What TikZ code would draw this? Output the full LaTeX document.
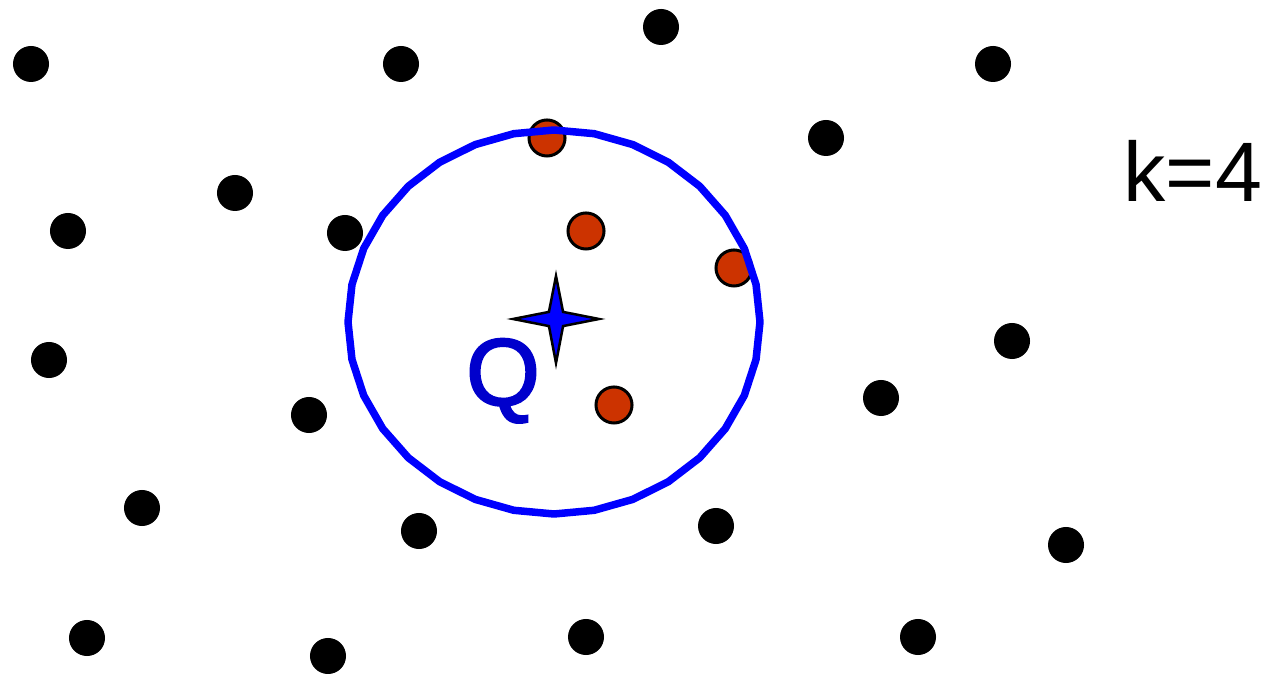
\documentclass[tikz,border=0pt]{standalone}
\usepackage{fontspec}
\setmainfont{Liberation Sans}
\definecolor{hitred}{RGB}{204,51,0}
\definecolor{qblue}{RGB}{0,0,204}

\begin{document}
\begin{tikzpicture}[
  x=0.01cm, y=-0.01cm,
  pt/.style={circle, fill=black, minimum size=3.6mm, inner sep=0pt},
  hit/.style={circle, draw=black, line width=0.3mm, fill=hitred,
              minimum size=3.6mm, inner sep=0pt},
  ring/.style={draw=blue, line width=0.75mm, line join=round},
  lbl/.style={inner sep=0pt, font=\fontsize{27}{30}\selectfont}
]
  \useasboundingbox (0,0) rectangle (1270,674);
  % data points outside the query range
  \foreach \x/\y/\nm in {
    31/64/p1, 401/64/p2, 661/27/p3, 993/64/p4, 826/138/p5,
    235/193/p6, 68/231/p7, 345/233/p8, 49/360/p9, 1012/341/p10,
    881/398/p11, 309/415/p12, 142/508/p13, 419/531/p14, 716/526/p15,
    1066/545/p16, 87/638/p17, 328/656/p18, 586/637/p19, 918/637/p20}
    {\node[pt] (\nm) at (\x,\y) {};}
  % the k nearest neighbours
  \foreach \x/\y/\nm in {547/138/n1, 586/231/n2, 734/268/n3, 614/405/n4}
    {\node[hit] (\nm) at (\x,\y) {};}
  % query range
  \draw[ring] plot[samples=33, domain=0:360]
    ({554+206*cos(\x)}, {322+192*sin(\x)}) -- cycle;
  \coordinate (Q) at (556,319);
  \draw[fill=blue, line width=0.25mm, line join=miter]
    (Q) +(0:43) -- +(45:10) -- +(90:44) -- +(135:10) -- +(180:43)
        -- +(225:10) -- +(270:43) -- +(315:10) -- cycle;
  \node[lbl, text=qblue, draw=qblue, line width=0.02mm, anchor=base, draw=none]
    (qlabel) at (503,405) {\special{pdf:literal direct 2 Tr 0.6 w}Q\special{pdf:literal direct 0 Tr}};
  \node[lbl, font=\fontsize{24}{28}\selectfont, anchor=base west] (klabel)
    at (1123,202) {k=4};
\end{tikzpicture}
\end{document}
